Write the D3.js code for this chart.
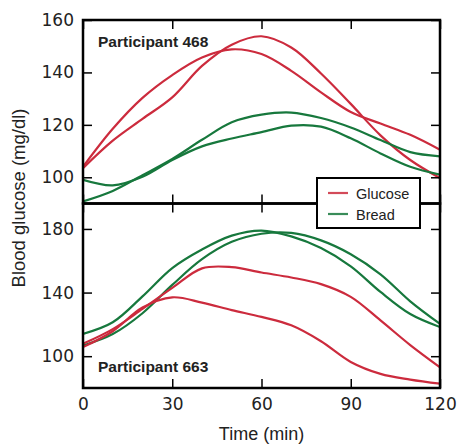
<!DOCTYPE html>
<html>
<head>
<meta charset="utf-8">
<title>Blood glucose</title>
<style type="text/css">
    html, body { margin: 0; padding: 0; background: #fff; }
    .tick text { font-family: "DejaVu Sans", sans-serif; font-size: 17px; fill: #222; }
    .tick line { stroke: #000; stroke-width: 1.5px; }
    .lab { font-family: "Liberation Sans", Arial, sans-serif; fill: #222; }
</style>
</head>
<body>
<svg id="svg" width="461" height="445"></svg>
<script src="https://cdn.jsdelivr.net/npm/d3@7/dist/d3.min.js"></script>
<script type="text/javascript">
    // time points (min)
    var times = [0, 10, 20, 30, 40, 50, 60, 70, 80, 90, 100, 110, 120];

    // participant 468
    var glucose468a = [104, 118.5, 130.3, 139, 145.7, 148.8, 147, 140.6, 132.4, 124.9, 120.5, 116.2, 110.5];
    var glucose468b = [103.5, 114, 122.3, 130.5, 142.5, 150.6, 153.8, 149.5, 139.6, 128, 116, 106.6, 99.7];
    var bread468a = [90.8, 94.8, 100.8, 107, 114.3, 121, 123.9, 124.7, 122.6, 119, 114.2, 109.6, 108];
    var bread468b = [99, 96.9, 100.2, 106.6, 111.8, 114.8, 117.2, 119.7, 119.3, 114.9, 109.1, 104, 101];

    // participant 663
    var glucose663a = [107.8, 117, 129.7, 142.9, 155.2, 156, 152.6, 149.5, 145.3, 137.3, 122.5, 107, 93];
    var glucose663b = [105.7, 115.7, 130.6, 137, 133.7, 129, 124.7, 119.4, 109.4, 96.4, 88.9, 85.3, 82.7];
    var bread663a = [114, 121.3, 137.6, 155.4, 167.1, 175.8, 179, 175.3, 168, 156.5, 140.4, 126.5, 118.3];
    var bread663b = [106.7, 113.9, 127, 144.8, 161, 171.9, 177, 177.5, 172.8, 164.1, 151.5, 134.5, 120.3];

    var xTicks = [0, 30, 60, 90, 120];
    var yTicks468 = [100, 120, 140, 160];
    var yTicks663 = [100, 140, 180];

    var red = '#cc2b3d', green = '#17783d';
    var seriesNames = ['Glucose', 'Bread'];

    var svg = d3.select('#svg');
    var left = 83, right = 440;

    var x = d3.scaleLinear().domain([0, 120]).range([left, right]);

    var panels = [
        {name: 'Participant 468', top: 20, bottom: 203.5, domain: [90, 160], ticks: yTicks468,
            lines: [[glucose468a, red], [glucose468b, red], [bread468a, green], [bread468b, green]],
            labelY: 46.5, last: false},
        {name: 'Participant 663', top: 203.5, bottom: 388, domain: [80, 196], ticks: yTicks663,
            lines: [[bread663a, green], [bread663b, green], [glucose663a, red], [glucose663b, red]],
            labelY: 371.5, last: true}
    ];

    panels.forEach(function (p, i) {
        var y = d3.scaleLinear().domain(p.domain).range([p.bottom, p.top]);
        var g = svg.append('g');

        g.append('clipPath').attr('id', 'clip' + i)
            .append('rect')
            .attr('x', left).attr('y', p.top)
            .attr('width', right - left).attr('height', p.bottom - p.top);

        var line = d3.line()
            .x(function (d, j) { return x(times[j]); })
            .y(function (d) { return y(d); })
            .curve(d3.curveCatmullRom.alpha(0.5));

        g.append('g').attr('clip-path', 'url(#clip' + i + ')')
            .selectAll('path')
            .data(p.lines)
            .enter()
            .append('path')
            .attr('d', function (d) { return line(d[0]); })
            .attr('fill', 'none')
            .attr('stroke', function (d) { return d[1]; })
            .attr('stroke-width', 2.2);

        // axes with inward ticks
        var ax;
        ax = g.append('g').attr('transform', 'translate(' + left + ',0)')
            .call(d3.axisLeft(y).tickValues(p.ticks).tickSize(-9).tickPadding(9));
        ax.select('.domain').remove();
        ax = g.append('g').attr('transform', 'translate(' + right + ',0)')
            .call(d3.axisRight(y).tickValues(p.ticks).tickSize(-9).tickFormat(''));
        ax.select('.domain').remove();
        ax = g.append('g').attr('transform', 'translate(0,' + p.top + ')')
            .call(d3.axisTop(x).tickValues(xTicks).tickSize(-9).tickFormat(''));
        ax.select('.domain').remove();
        ax = g.append('g').attr('transform', 'translate(0,' + p.bottom + ')')
            .call(d3.axisBottom(x).tickValues(xTicks).tickSize(-9).tickPadding(10)
                .tickFormat(p.last ? d3.format('d') : ''));
        ax.select('.domain').remove();

        g.append('rect')
            .attr('x', left).attr('y', p.top)
            .attr('width', right - left).attr('height', p.bottom - p.top)
            .attr('fill', 'none').attr('stroke', '#000').attr('stroke-width', 2.5);

        g.append('text').attr('class', 'lab')
            .attr('x', 98).attr('y', p.labelY)
            .attr('font-size', '15.5px').attr('font-weight', 'bold')
            .text(p.name);
    });

    // axis titles
    svg.append('text').attr('class', 'lab')
        .attr('x', (left + right) / 2).attr('y', 440)
        .attr('text-anchor', 'middle').attr('font-size', '18px')
        .text('Time (min)');
    svg.append('text').attr('class', 'lab')
        .attr('transform', 'translate(24.5,198) rotate(-90)')
        .attr('text-anchor', 'middle').attr('font-size', '18.5px')
        .text('Blood glucose (mg/dl)');

    // legend
    var lg = svg.append('g').attr('transform', 'translate(317,178)');
    lg.append('rect').attr('width', 103).attr('height', 50)
        .attr('fill', '#fff').attr('stroke', '#000').attr('stroke-width', 2);
    var item = lg.selectAll('g.item')
        .data(seriesNames)
        .enter()
        .append('g').attr('class', 'item')
        .attr('transform', function (d, i) { return 'translate(0,' + (15 + i * 21) + ')'; });
    item.append('line')
        .attr('x1', 11).attr('x2', 31)
        .attr('stroke', function (d, i) { return i === 0 ? red : green; })
        .attr('stroke-width', 2.2).attr('opacity', 0.85);
    item.append('text').attr('class', 'lab')
        .attr('x', 39).attr('y', 5.5)
        .attr('font-size', '14.5px')
        .text(function (d) { return d; });
</script>
</body>
</html>
